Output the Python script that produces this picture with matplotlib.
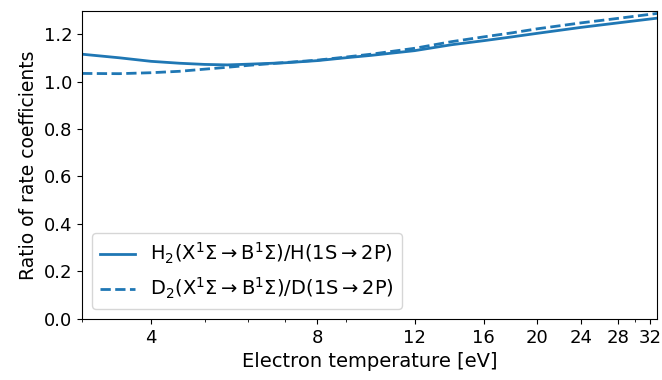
import numpy as np
import matplotlib
matplotlib.use("Agg")
import matplotlib.pyplot as plt
from matplotlib.ticker import NullFormatter

# electron temperature [eV]
temperature = [3, 3.5, 4, 4.5, 5, 5.5, 6, 7, 8, 9, 10, 12, 14, 16, 18, 20, 24, 28, 33]
# H2(X->B)/H(1S->2P)
ratio_h = [1.115, 1.100, 1.085, 1.077, 1.072, 1.070, 1.073, 1.079, 1.088, 1.100,
           1.110, 1.130, 1.155, 1.172, 1.188, 1.203, 1.228, 1.247, 1.267]
# D2(X->B)/D(1S->2P)
ratio_d = [1.034, 1.033, 1.037, 1.043, 1.052, 1.060, 1.068, 1.080, 1.090, 1.103,
           1.115, 1.140, 1.168, 1.188, 1.205, 1.222, 1.247, 1.266, 1.287]
xticks = [4, 8, 12, 16, 20, 24, 28, 32]

plt.rcParams['font.size'] = 13

fig = plt.figure(figsize=(6.62, 3.8), dpi=100)
ax = fig.add_axes([0.124, 0.161, 0.869, 0.81])

ax.plot(temperature, ratio_h, color='tab:blue', linewidth=2,
        label=r'H$_2$(X$^1\Sigma\rightarrow$B$^1\Sigma$)/H(1S$\rightarrow$2P)')
ax.plot(temperature, ratio_d, color='tab:blue', linewidth=2, linestyle='--',
        label=r'D$_2$(X$^1\Sigma\rightarrow$B$^1\Sigma$)/D(1S$\rightarrow$2P)')

ax.set_xscale('log')
ax.set_xlim(3, 33)
ax.set_ylim(0, 1.297)
ax.set_xticks(xticks)
ax.set_xticklabels([str(t) for t in xticks])
ax.xaxis.set_minor_formatter(NullFormatter())

ax.set_xlabel('Electron temperature [eV]', fontsize=14)
ax.set_ylabel('Ratio of rate coefficients', fontsize=13.5)
ax.legend(loc='lower left', fontsize=14, handlelength=1.8)

fig.savefig('out.png', dpi=100)
